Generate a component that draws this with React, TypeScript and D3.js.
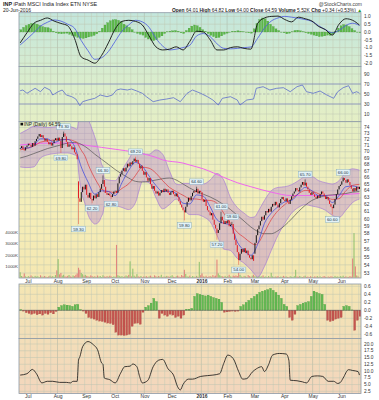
import React from "react";
import * as d3 from "d3";

const FONT = "'Liberation Sans', Arial, Helvetica, sans-serif";

// ---------- price data (daily closes, one per trading day from 23-Jun-2015 to 20-Jun-2016) ----------
const closes = [
  70.6, 70.9, 70.4, 70.2, 70.7, 71.0, 71.3, 71.1, 70.8, 71.4,
  71.0, 71.7, 72.1, 72.5, 72.9, 72.4, 72.7, 72.2, 71.8, 72.1,
  71.6, 71.2, 71.5, 71.0, 71.4, 71.9, 72.2, 71.8, 72.3, 71.8,
  70.6, 72.4, 73.0, 72.5, 71.6, 70.8, 71.2, 70.9, 70.4, 70.7,
  69.9, 69.6, 68.8, 62.9, 62.4, 63.8, 64.6, 64.2, 64.9, 63.4,
  63.0, 63.7, 62.8, 62.6, 63.3, 62.9, 63.5, 63.1, 63.8, 64.3,
  65.0, 65.6, 64.6, 63.7, 63.4, 63.6, 63.3, 63.1, 63.5, 63.9,
  64.0, 63.7, 65.1, 66.1, 66.5, 67.0, 67.4, 66.9, 67.5, 68.1,
  67.7, 68.3, 68.0, 68.5, 68.9, 68.4, 68.7, 68.1, 67.4, 67.8,
  67.0, 66.4, 66.8, 66.0, 65.5, 65.9, 65.0, 64.3, 64.7, 64.0,
  63.6, 63.9, 63.3, 63.7, 64.1, 63.8, 64.3, 63.9, 64.2, 63.7,
  63.4, 63.8, 64.0, 63.5, 63.2, 63.6, 63.1, 62.5, 62.0, 61.6,
  61.2, 60.9, 61.7, 62.4, 63.0, 62.6, 63.2, 63.7, 64.0, 63.8,
  64.3, 63.6, 64.0, 63.8, 62.8, 62.4, 62.7, 61.8, 61.2, 61.0,
  60.5, 60.8, 59.9, 59.2, 58.7, 58.1, 58.5, 59.4, 60.3, 59.8,
  59.3, 59.7, 59.4, 59.8, 59.0, 59.2, 59.3, 58.0, 57.2, 56.5,
  55.6, 54.6, 55.4, 56.0, 55.6, 56.1, 55.5, 55.8, 55.2, 54.9,
  54.7, 55.2, 54.5, 56.8, 57.8, 58.6, 59.1, 59.7, 60.3, 59.9,
  60.5, 61.1, 60.9, 61.4, 61.0, 61.7, 62.1, 61.9, 62.4, 62.0,
  61.6, 62.2, 62.8, 63.1, 62.7, 62.5, 62.9, 62.4, 62.1, 62.7,
  63.2, 63.6, 63.9, 64.4, 64.1, 63.9, 64.5, 64.9, 65.3, 64.8,
  65.2, 64.6, 64.2, 63.7, 63.4, 63.8, 63.5, 63.1, 62.9, 63.3,
  63.0, 63.5, 63.9, 63.6, 63.2, 62.8, 63.1, 62.6, 62.1, 61.7,
  61.5, 62.0, 62.8, 63.5, 64.2, 64.7, 64.9, 65.4, 65.9, 65.6,
  65.2, 65.7, 65.3, 64.8, 64.3, 63.9, 64.4, 64.0, 64.6, 64.25,
  64.59,
];

// opening gaps (index, open)
const gapOpens: [number, number][] = [
  [43, 65.4],
  [173, 55.4],
];

// daily volume, thousands of shares
const volumes = [
  480, 150, 90, 380, 120, 60, 140, 80, 200, 110,
  70, 160, 90, 130, 60, 210, 100, 80, 150, 90,
  60, 120, 180, 90, 140, 70, 230, 650, 1650, 300,
  420, 180, 260, 120, 90, 160, 240, 110, 80, 200,
  140, 260, 380, 880, 700, 420, 310, 180, 250, 160,
  120, 90, 210, 140, 80, 130, 70, 190, 100, 150,
  60, 220, 110, 80, 140, 90, 170, 120, 60, 110,
  90, 2900, 220, 160, 90, 140, 70, 110, 200, 130,
  250, 1450, 120, 800, 180, 90, 310, 120, 80, 150,
  60, 110, 90, 140, 70, 120, 180, 90, 60, 210,
  130, 80, 150, 100, 260, 70, 110, 90, 160, 120,
  80, 140, 220, 90, 60, 130, 180, 100, 70, 240,
  150, 700, 330, 120, 90, 180, 60, 140, 100, 80,
  160, 90, 1400, 220, 380, 120, 90, 170, 60, 110,
  140, 90, 230, 120, 180, 1600, 380, 220, 150, 120,
  90, 160, 70, 140, 260, 110, 90, 180, 130, 200,
  150, 600, 240, 110, 80, 160, 120, 70, 230, 140,
  90, 180, 260, 140, 110, 70, 160, 90, 130, 200,
  80, 120, 60, 150, 90, 430, 120, 70, 110, 90,
  140, 60, 100, 80, 160, 90, 120, 70, 50, 130,
  90, 60, 140, 700, 110, 80, 150, 90, 60, 120,
  180, 70, 100, 60, 130, 80, 50, 110, 90, 140,
  70, 120, 60, 90, 150, 80, 60, 110, 70, 130,
  90, 60, 160, 80, 110, 70, 130, 90, 180, 60,
  120, 80, 70, 140, 90, 1700, 3950, 1000, 200, 120,
  6,
];

// labelled swing points: [index, price, H/L]
const pivots: [number, number, string][] = [
  [32, 73.3, "H"], [30, 69.8, "L"], [43, 59.3, "L"], [53, 62.2, "L"],
  [61, 66.3, "H"], [67, 62.8, "L"], [85, 69.2, "H"], [121, 59.8, "L"],
  [130, 64.6, "H"], [145, 57.2, "L"], [148, 61.0, "H"], [156, 59.6, "H"],
  [161, 54.0, "L"], [210, 65.7, "H"], [230, 60.6, "L"], [238, 66.0, "H"],
];

// Bollinger bands (20,2)
const bandIdx = [0, 5, 10, 15, 20, 25, 30, 35, 40, 42, 43, 45, 48, 50, 53, 55, 58, 60, 61, 62, 65, 70, 75, 80, 85, 88, 90, 95, 100, 105, 110, 115, 118, 120, 125, 130, 135, 140, 145, 150, 155, 160, 165, 170, 173, 175, 180, 185, 190, 195, 200, 205, 210, 215, 220, 225, 230, 235, 240, 245, 250];
const bandUpper = [73.0, 73.6, 74.2, 74.1, 74.0, 74.1, 74.2, 74.2, 73.9, 73.7, 75.1, 76.5, 76.4, 75.5, 73.7, 72.4, 70.0, 68.0, 67.6, 65.8, 65.6, 65.5, 67.1, 68.8, 70.3, 70.1, 69.7, 69.6, 70.3, 69.6, 67.0, 65.0, 64.9, 65.1, 65.1, 65.0, 65.0, 65.6, 66.6, 65.6, 63.0, 61.6, 60.8, 60.2, 60.3, 60.9, 62.6, 64.0, 64.5, 64.6, 64.9, 65.5, 66.1, 66.1, 65.5, 65.2, 65.0, 65.5, 66.8, 67.3, 67.1];
const bandLower = [67.6, 67.5, 67.6, 69.0, 69.5, 69.7, 69.8, 69.8, 69.5, 69.3, 67.0, 64.0, 62.0, 60.6, 59.6, 59.3, 59.6, 60.4, 60.8, 61.8, 62.2, 61.9, 61.6, 61.3, 62.3, 64.3, 65.4, 65.2, 63.0, 61.4, 62.0, 62.8, 62.2, 61.6, 60.6, 60.6, 60.3, 59.6, 57.8, 56.0, 55.8, 54.8, 54.2, 53.4, 52.8, 52.5, 53.8, 55.8, 57.8, 59.4, 60.8, 61.6, 62.0, 61.8, 61.6, 61.2, 60.5, 60.2, 61.2, 62.3, 62.8];
const bandMid = [70.3, 70.55, 70.9, 71.55, 71.75, 71.9, 72.0, 72.0, 71.7, 71.5, 71.05, 70.25, 69.2, 68.05, 66.65, 65.85, 64.8, 64.2, 64.2, 63.8, 63.9, 63.7, 64.35, 65.05, 66.3, 67.2, 67.55, 67.4, 66.65, 65.5, 64.5, 63.9, 63.55, 63.35, 62.85, 62.8, 62.65, 62.6, 62.2, 60.8, 59.4, 58.2, 57.5, 56.8, 56.55, 56.7, 58.2, 59.9, 61.15, 62.0, 62.85, 63.55, 64.05, 63.95, 63.55, 63.2, 62.75, 62.85, 64.0, 64.8, 64.95];

// moving averages, sampled every 5 trading days
const emaFast = [70.6, 70.6, 71.0, 72.1, 72.1, 71.5, 71.9, 72.0, 70.9, 67.6, 65.3, 63.5, 64.0, 63.9, 63.3, 65.2, 67.1, 68.3, 67.7, 66.2, 64.8, 63.9, 63.9, 63.6, 62.2, 62.1, 63.4, 63.2, 61.7, 59.9, 59.4, 59.2, 56.9, 55.8, 55.2, 56.6, 59.4, 60.8, 61.7, 62.4, 62.6, 63.6, 64.5, 64.0, 63.3, 63.3, 62.3, 63.3, 64.6, 64.7, 64.4];
const sma50 = [69.0, 69.3, 69.7, 70.1, 70.5, 70.8, 71.1, 71.4, 71.5, 71.2, 70.5, 69.6, 68.8, 68.0, 67.2, 66.5, 65.9, 65.4, 65.3, 65.4, 65.6, 65.8, 65.9, 65.6, 65.0, 64.4, 63.9, 63.5, 63.1, 62.6, 62.0, 61.3, 60.5, 59.7, 58.9, 58.3, 58.0, 58.0, 58.4, 59.1, 60.0, 61.0, 61.9, 62.6, 63.0, 63.3, 63.4, 63.5, 63.6, 63.8, 63.9];
const ma200Idx = [0, 10, 20, 35, 50, 60, 70, 85, 100, 105, 120, 125, 135, 150, 160, 170, 185, 200, 220, 235, 250];
const ma200 = [71.1, 71.3, 71.4, 71.4, 71.0, 70.7, 70.4, 69.9, 69.1, 68.7, 68.2, 67.9, 67.3, 66.0, 65.2, 64.6, 63.8, 63.3, 63.3, 63.4, 63.6];

// top oscillator (every 5 days) and its histogram (every 2 days)
const oscLine = [-0.70, -0.05, 0.55, 0.75, 0.90, 0.70, 0.55, 0.40, -0.40, -1.60, -1.80, -2.00, -1.50, -0.70, 0.20, 0.68, 0.75, 0.68, 0.45, -0.25, -0.95, -1.15, -1.10, -0.95, -1.15, -0.60, 0.05, 0.00, -0.50, -1.15, -1.15, -1.00, -0.95, -1.05, -1.10, 0.55, 0.90, 1.00, 1.02, 0.80, 0.65, 0.95, 0.85, 0.70, 0.35, 0.15, -0.20, 0.50, 0.85, 0.75, 0.45];
const oscSignal = [-0.83, -0.45, -0.05, 0.38, 0.62, 0.77, 0.70, 0.50, 0.25, -0.55, -1.20, -1.75, -1.65, -1.25, -0.60, 0.05, 0.45, 0.75, 0.65, 0.30, -0.40, -0.90, -1.15, -1.10, -1.00, -0.85, -0.25, -0.10, -0.30, -0.75, -1.05, -1.08, -1.05, -1.00, -0.96, -0.40, 0.25, 0.70, 0.90, 1.00, 0.95, 0.88, 0.80, 0.68, 0.40, 0.15, -0.05, 0.10, 0.42, 0.56, 0.42];
const oscHist = [
  0.15, 0.30, 0.42, 0.50, 0.55, 0.55, 0.50, 0.42, 0.35, 0.30,
  0.28, 0.20, 0.05, -0.05, -0.10, -0.12, -0.10, -0.08, -0.15, -0.22,
  -0.28, -0.35, -0.40, -0.42, -0.38, -0.32, -0.28, -0.22, -0.12, 0.05,
  0.25, 0.45, 0.60, 0.72, 0.78, 0.80, 0.75, 0.65, 0.50, 0.40,
  0.30, 0.15, 0.00, -0.10, -0.15, -0.20, -0.35, -0.45, -0.52, -0.55,
  -0.50, -0.35, -0.25, -0.10, 0.02, 0.05, 0.08, 0.10, 0.05, -0.05,
  -0.10, 0.10, 0.25, 0.38, 0.45, 0.40, 0.30, 0.15, 0.05, -0.10,
  -0.22, -0.30, -0.38, -0.35, -0.25, -0.15, -0.08, 0.00, 0.05, 0.05,
  0.08, 0.05, 0.02, -0.02, -0.05, -0.08, 0.20, 0.55, 0.80, 0.90,
  0.85, 0.70, 0.50, 0.35, 0.20, 0.10, 0.00, -0.05, -0.12, -0.08,
  0.02, 0.10, 0.12, 0.08, 0.02, -0.05, -0.10, -0.15, -0.20, -0.25,
  -0.30, -0.28, -0.25, -0.20, -0.22, -0.15, 0.05, 0.25, 0.40, 0.48,
  0.45, 0.35, 0.22, 0.10, 0.00, -0.05,
];

// RSI(14)
const rsiIdx = [0, 2, 5, 9, 11, 15, 18, 22, 24, 28, 31, 34, 38, 41, 44, 46, 50, 55, 59, 64, 68, 71, 74, 79, 82, 86, 90, 93, 98, 103, 108, 113, 118, 123, 127, 133, 138, 142, 146, 149, 155, 160, 162, 167, 172, 174, 179, 184, 189, 194, 199, 204, 208, 211, 216, 221, 226, 231, 234, 238, 242, 245, 248, 250];
const rsiVal = [56.6, 58, 51.4, 58, 61.4, 54.6, 63.4, 58, 48, 54.6, 58, 48, 44.6, 40, 26.6, 34.6, 38, 41.4, 48, 44.6, 48, 58, 60, 58, 60, 56, 51.4, 44.6, 34.6, 38, 40, 42.6, 34.6, 51.4, 58, 51.4, 44.6, 38, 28, 41.4, 44.6, 38, 28, 38, 40, 61.4, 64.6, 58, 61.4, 62.6, 54.6, 64.6, 68, 54.6, 51.4, 56, 48, 41.4, 54.6, 62.6, 66.6, 51.4, 54.6, 51.4];

// money flow histogram (every 2 days)
const cmf = [
  0.02, -0.02, -0.06, -0.08, -0.10, -0.08, -0.11, -0.09, -0.12, -0.08,
  -0.10, -0.06, -0.09, -0.03, 0.08, 0.12, 0.14, 0.13, 0.12, 0.10,
  0.14, 0.15, 0.02, -0.02, -0.08, -0.18, -0.20, -0.22, -0.25, -0.27,
  -0.28, -0.30, -0.32, -0.33, -0.36, -0.55, -0.62, -0.62, -0.63, -0.62,
  -0.60, -0.40, -0.33, -0.32, -0.35, -0.05, 0.08, 0.12, 0.18, 0.30,
  0.22, -0.20, -0.08, -0.12, -0.15, -0.10, -0.12, -0.18, -0.15, -0.20,
  -0.12, 0.03, 0.03, 0.05, 0.35, 0.42, 0.40, 0.38, 0.36, 0.38,
  0.35, 0.32, 0.30, 0.28, 0.20, -0.05, -0.04, -0.03, -0.02, -0.03,
  -0.02, 0.10, 0.14, 0.20, 0.25, 0.30, 0.35, 0.40, 0.45, 0.48,
  0.50, 0.52, 0.55, 0.50, 0.45, 0.38, 0.30, 0.15, 0.10, -0.18,
  -0.25, -0.10, 0.12, 0.15, 0.18, 0.20, 0.22, 0.35, 0.48, 0.45,
  0.42, 0.40, 0.15, -0.25, -0.28, -0.26, -0.22, -0.20, -0.18, 0.10,
  0.12, 0.10, 0.01, -0.50, -0.25, -0.15,
];

// Bollinger BandWidth
const bwIdx = [0, 5, 9, 12, 16, 20, 24, 29, 34, 37, 39, 42, 43, 44, 46, 50, 54, 57, 60, 61, 62, 66, 70, 74, 77, 81, 83, 86, 88, 90, 94, 98, 102, 105, 109, 113, 116, 118, 120, 124, 127, 133, 138, 142, 147, 150, 153, 157, 161, 164, 167, 171, 174, 178, 180, 183, 186, 191, 196, 198, 199, 204, 208, 211, 215, 219, 223, 227, 231, 234, 236, 238, 242, 245, 249, 250];
const bwVal = [8.5, 9.0, 10.6, 9.0, 5.6, 6.2, 6.2, 5.8, 5.8, 5.6, 6.2, 6.2, 14.0, 15.3, 19.0, 20.9, 19.7, 17.9, 13.0, 12.5, 7.4, 6.8, 5.6, 9.2, 11.6, 11.8, 12.6, 11.6, 8.0, 5.6, 6.5, 11.6, 14.0, 14.3, 10.8, 8.5, 4.2, 3.0, 5.0, 7.0, 7.0, 8.0, 8.3, 8.5, 9.0, 12.8, 15.9, 14.6, 9.8, 7.0, 7.2, 9.6, 10.8, 11.6, 9.8, 12.3, 15.9, 16.5, 16.3, 14.0, 6.6, 6.4, 6.0, 5.6, 8.0, 8.2, 8.0, 6.2, 6.2, 5.4, 5.8, 7.4, 10.5, 10.2, 9.8, 8.5];

// axis tick labels
const oscTicks = [1.0, 0.5, 0.0, -0.5, -1.0, -1.5, -2.0];
const rsiTicks = [90, 70, 50, 30, 10];
const priceTicks = [74, 73, 72, 71, 70, 69, 68, 67, 66, 65, 64, 63, 62, 61, 60, 59, 58, 57, 56, 55, 54, 53];
const volTicks = [1000, 2000, 3000, 4000];
const cmfTicks = [0.6, 0.4, 0.2, 0.0, -0.2, -0.4, -0.6];
const bwTicks = [20.0, 17.5, 15.0, 12.5, 10.0, 7.5, 5.0, 2.5];
const monthLabels = ["Jul", "Aug", "Sep", "Oct", "Nov", "Dec", "2016", "Feb", "Mar", "Apr", "May", "Jun"];
const holidays = ["2015-07-03", "2015-09-07", "2015-11-26", "2015-12-25", "2016-01-01", "2016-01-18", "2016-02-15", "2016-03-25", "2016-05-30"];

const STEP = 1.357;
const X0 = 19.5;
const LEFT = 19;
const RIGHT = 361;
const P1 = { top: 12.7, bottom: 66.5 };
const P2 = { top: 66.5, bottom: 121.7 };
const P3 = { top: 121.7, bottom: 278 };
const P4 = { top: 284, bottom: 338.5 };
const P5 = { top: 338.5, bottom: 393.5 };

function tradingDays(n: number): Date[] {
  const fmt = d3.timeFormat("%Y-%m-%d");
  const hol = new Set(holidays);
  const out: Date[] = [];
  const d = new Date(2015, 5, 23);
  while (out.length < n) {
    const dow = d.getDay();
    if (dow !== 0 && dow !== 6 && !hol.has(fmt(d))) out.push(new Date(d));
    d.setDate(d.getDate() + 1);
  }
  return out;
}

export default function App() {
  const N = closes.length;
  const days = tradingDays(N);
  const xs = d3.scaleLinear().domain([-0.5, N - 0.5]).range([X0, X0 + N * STEP]);
  const yOsc = d3.scaleLinear().domain([-2, 1]).range([63.2, 16.4]);
  const yRsi = d3.scaleLinear().domain([10, 90]).range([114, 74]);
  const yPx = d3.scaleLog().domain([53, 74]).range([273, 127.5]);
  const yVol = d3.scaleLinear().domain([0, 4000]).range([277.7, 232.5]);
  const yCmf = d3.scaleLinear().domain([-0.6, 0.6]).range([334.3, 286.3]);
  const yBw = d3.scaleLinear().domain([2.5, 20]).range([391.3, 344]);

  const weekStarts: number[] = [];
  const monthStarts: number[] = [];
  days.forEach((d, i) => {
    if (i === 0) return;
    const p = days[i - 1];
    if (d.getDay() < p.getDay() || d.getTime() - p.getTime() > 3.5 * 864e5) weekStarts.push(i);
    if (d.getMonth() !== p.getMonth()) monthStarts.push(i);
  });

  const idx5 = oscLine.map((_, k) => k * 5);
  const idx2 = oscHist.map((_, k) => k * 2);

  const frame = (p: { top: number; bottom: number }, ticks: number[], ys: (v: number) => number, key: string) => (
    <g key={key}>
      <rect x={LEFT} y={p.top} width={RIGHT - LEFT} height={p.bottom - p.top} fill="url(#bg)" />
      {weekStarts.map((i) => (
        <line key={"w" + i} x1={xs(i - 0.5)} x2={xs(i - 0.5)} y1={p.top} y2={p.bottom}
          stroke={monthStarts.includes(i) ? "#a9b3a0" : "#c3cbb6"} strokeWidth={0.5} />
      ))}
      {ticks.map((t) => (
        <line key={"h" + t} x1={LEFT} x2={RIGHT} y1={ys(t)} y2={ys(t)} stroke="#bcc4b0" strokeWidth={0.5} />
      ))}
    </g>
  );

  const border = (p: { top: number; bottom: number }, key: string) => (
    <rect key={key} x={LEFT} y={p.top} width={RIGHT - LEFT} height={p.bottom - p.top} fill="none" stroke="#8d9aa6" strokeWidth={0.8} />
  );

  const rightLabels = (ticks: number[], ys: (v: number) => number, fmt: (v: number) => string, key: string) =>
    ticks.map((t) => (
      <text key={key + t} x={364} y={ys(t) + 1.7} fontSize={4.8} fill="#333" fontFamily={FONT}>{fmt(t)}</text>
    ));

  const monthText = (y: number, key: string) =>
    monthStarts.map((i, k) => (
      <text key={key + i} x={xs(i)} y={y} fontSize={5} textAnchor="middle" fill="#333" fontFamily={FONT}
        fontWeight={monthLabels[k] === "2016" ? "bold" : "normal"}>{monthLabels[k]}</text>
    ));

  // lines
  const oscPath = d3.line<number>().x((_, k) => xs(idx5[k])).y((v) => yOsc(v)).curve(d3.curveMonotoneX);
  const rsiPath = d3.line<number>().x((_, k) => xs(rsiIdx[k])).y((v) => yRsi(v));
  const bwPath = d3.line<number>().x((_, k) => xs(bwIdx[k])).y((v) => yBw(v)).curve(d3.curveMonotoneX);
  const bandArea = d3.area<number>().x((_, k) => xs(bandIdx[k])).y0((_, k) => yPx(bandLower[k])).y1((_, k) => yPx(bandUpper[k])).curve(d3.curveMonotoneX);
  const bandLine = (arr: number[]) => d3.line<number>().x((_, k) => xs(bandIdx[k])).y((v) => yPx(v)).curve(d3.curveMonotoneX)(arr) || "";
  const ma5Line = (arr: number[]) => d3.line<number>().x((_, k) => xs(k * 5)).y((v) => yPx(v)).curve(d3.curveMonotoneX)(arr) || "";
  const ma200Path = d3.line<number>().x((_, k) => xs(ma200Idx[k])).y((v) => yPx(v)).curve(d3.curveMonotoneX)(ma200) || "";

  const gapMap = new Map(gapOpens);
  const candles = closes.map((c, i) => {
    const o = gapMap.has(i) ? (gapMap.get(i) as number) : i > 0 ? closes[i - 1] : c;
    const up = i === 0 ? true : c >= closes[i - 1];
    const y1 = yPx(Math.max(o, c));
    const y2 = yPx(Math.min(o, c));
    return { i, o, c, up, y1, h: Math.max(0.8, y2 - y1) };
  });

  return (
    <svg width={379} height={400} viewBox="0 0 379 400" style={{ position: "absolute", left: 0, top: 0, background: "#fff" }}>
      <defs>
        <linearGradient id="bg" gradientUnits="userSpaceOnUse" x1="0" y1={P1.top} x2="0" y2={P5.bottom}>
          <stop offset="0" stopColor="#c3e6dc" />
          <stop offset="0.14" stopColor="#d6ecd0" />
          <stop offset="0.3" stopColor="#e6efc4" />
          <stop offset="0.5" stopColor="#f5efba" />
          <stop offset="0.68" stopColor="#f5e8b2" />
          <stop offset="0.84" stopColor="#f3dfb8" />
          <stop offset="1" stopColor="#f3d6bd" />
        </linearGradient>
        {[P1, P2, P3, P4, P5].map((p, k) => (
          <clipPath id={"clip" + k} key={k}>
            <rect x={LEFT} y={p.top} width={RIGHT - LEFT} height={p.bottom - p.top} />
          </clipPath>
        ))}
      </defs>

      {/* header */}
      <text x={3} y={6.3} fontSize={5.4} fontFamily={FONT} fill="#222">
        <tspan fontWeight="bold">INP</tspan> iPath MSCI India Index ETN NYSE
      </text>
      <text x={362} y={6.3} fontSize={5} fontFamily={FONT} fill="#444" textAnchor="end">@StockCharts.com</text>
      <text x={3} y={11.8} fontSize={5} fontFamily={FONT} fill="#222">20-Jun-2016</text>
      <text x={362} y={11.8} fontSize={4.9} fontFamily={FONT} fill="#222" textAnchor="end">
        <tspan fontWeight="bold">Open</tspan> 64.01 <tspan fontWeight="bold">High</tspan> 64.82 <tspan fontWeight="bold">Low</tspan> 64.00 <tspan fontWeight="bold">Close</tspan> 64.59 <tspan fontWeight="bold">Volume</tspan> 5.52K <tspan fontWeight="bold">Chg</tspan> +0.34 (+0.53%) <tspan fill="#2a9a2a">▲</tspan>
      </text>

      {/* panel 1: oscillator */}
      {frame(P1, oscTicks, yOsc, "f1")}
      <g clipPath="url(#clip0)">
        {oscHist.map((v, k) => (
          <rect key={k} x={xs(idx2[k] - 0.5) + 0.35} width={2 * STEP - 0.7}
            y={Math.min(yOsc(v), yOsc(0))} height={Math.max(0.3, Math.abs(yOsc(v) - yOsc(0)))}
            fill="#5cb848" stroke="#3f8f33" strokeWidth={0.2} />
        ))}
        <path d={oscPath(oscSignal) || ""} fill="none" stroke="#4a58e0" strokeWidth={0.8} />
        <path d={oscPath(oscLine) || ""} fill="none" stroke="#111" strokeWidth={0.9} />
      </g>
      {border(P1, "b1")}
      {rightLabels(oscTicks, yOsc, (v) => v.toFixed(1), "o")}

      {/* panel 2: RSI */}
      {frame(P2, [90, 10], yRsi, "f2")}
      <g clipPath="url(#clip1)">
        <line x1={LEFT} x2={RIGHT} y1={yRsi(70)} y2={yRsi(70)} stroke="#7b84b8" strokeWidth={0.8} />
        <line x1={LEFT} x2={RIGHT} y1={yRsi(30)} y2={yRsi(30)} stroke="#7b84b8" strokeWidth={0.8} />
        <line x1={LEFT} x2={RIGHT} y1={yRsi(50)} y2={yRsi(50)} stroke="#9aa0a8" strokeWidth={0.6} strokeDasharray="2.5,1.5" />
        <path d={rsiPath(rsiVal) || ""} fill="none" stroke="#5566cc" strokeWidth={0.75} />
      </g>
      {border(P2, "b2")}
      {rightLabels(rsiTicks, yRsi, (v) => String(v), "r")}

      {/* panel 3: price */}
      {frame(P3, priceTicks, yPx, "f3")}
      <g clipPath="url(#clip2)">
        {volumes.map((v, i) => (
          <rect key={"v" + i} x={xs(i) - 0.55} width={1.1} y={yVol(v)} height={Math.max(0.2, yVol(0) - yVol(v))}
            fill={candles[i].up ? "#8cc06a" : "#e07a78"} opacity={0.9} />
        ))}
        <path d={bandArea(bandUpper) || ""} fill="#a868d4" opacity={0.32} />
        <path d={bandLine(bandUpper)} fill="none" stroke="#a070d8" strokeWidth={0.6} />
        <path d={bandLine(bandLower)} fill="none" stroke="#a070d8" strokeWidth={0.6} />
        <path d={ma200Path} fill="none" stroke="#f066ee" strokeWidth={1} />
        <path d={ma5Line(sma50)} fill="none" stroke="#555" strokeWidth={0.7} />
        <path d={bandLine(bandMid)} fill="none" stroke="#e03838" strokeWidth={0.7} />
        <path d={ma5Line(emaFast)} fill="none" stroke="#3442e0" strokeWidth={0.7} />
        {pivots.map(([i, p]) => {
          const cd = candles[i];
          const body = p > Math.max(cd.o, cd.c) ? yPx(Math.max(cd.o, cd.c)) : yPx(Math.min(cd.o, cd.c));
          return <line key={"wk" + i} x1={xs(i)} x2={xs(i)} y1={body} y2={yPx(p)} stroke={cd.up ? "#222" : "#e8604a"} strokeWidth={0.6} />;
        })}
        {candles.map((cd) => (
          <rect key={"c" + cd.i} x={xs(cd.i) - 0.5} width={1} y={cd.y1} height={cd.h} fill={cd.up ? "#111" : "#e3161e"} />
        ))}
        {pivots.map(([i, p, k]) => {
          const t = p.toFixed(2);
          const w = t.length * 2.35 + 2;
          const cy = k === "H" ? yPx(p) - 5 : yPx(p) + 5;
          return (
            <g key={"pl" + i}>
              <rect x={xs(i) - w / 2} y={cy - 2.8} width={w} height={5.6} fill="#e2f2f8" stroke="#7aa6bc" strokeWidth={0.4} />
              <text x={xs(i)} y={cy + 1.6} fontSize={4.3} textAnchor="middle" fill="#234" fontFamily={FONT}>{t}</text>
            </g>
          );
        })}
        <rect x={20.5} y={122.8} width={2.6} height={2.6} fill="#111" />
        <text x={24} y={125.6} fontSize={4.8} fill="#222" fontFamily={FONT}>INP (Daily) 64.59</text>
      </g>
      {border(P3, "b3")}
      {rightLabels(priceTicks, yPx, (v) => String(v), "p")}
      {volTicks.map((t) => (
        <text key={"vt" + t} x={18} y={yVol(t) + 1.6} fontSize={4.4} textAnchor="end" fill="#444" fontFamily={FONT}>{t + "K"}</text>
      ))}
      {monthText(283.2, "m1")}

      {/* panel 4: money flow */}
      {frame(P4, cmfTicks, yCmf, "f4")}
      <g clipPath="url(#clip3)">
        {cmf.map((v, k) => (
          <rect key={k} x={xs(idx2[k] - 0.5) + 0.35} width={2 * STEP - 0.7}
            y={Math.min(yCmf(v), yCmf(0))} height={Math.max(0.3, Math.abs(yCmf(v) - yCmf(0)))}
            fill={v >= 0 ? "#62b852" : "#c4544f"} stroke={v >= 0 ? "#3f8f33" : "#9a3a36"} strokeWidth={0.2} />
        ))}
        <line x1={LEFT} x2={RIGHT} y1={yCmf(0)} y2={yCmf(0)} stroke="#555" strokeWidth={0.5} />
      </g>
      {border(P4, "b4")}
      {rightLabels(cmfTicks, yCmf, (v) => v.toFixed(1), "c")}

      {/* panel 5: bandwidth */}
      {frame(P5, bwTicks, yBw, "f5")}
      <g clipPath="url(#clip4)">
        <path d={bwPath(bwVal) || ""} fill="none" stroke="#111" strokeWidth={0.8} />
      </g>
      {border(P5, "b5")}
      {rightLabels(bwTicks, yBw, (v) => v.toFixed(1), "w")}
      {monthText(398.3, "m2")}
    </svg>
  );
}
